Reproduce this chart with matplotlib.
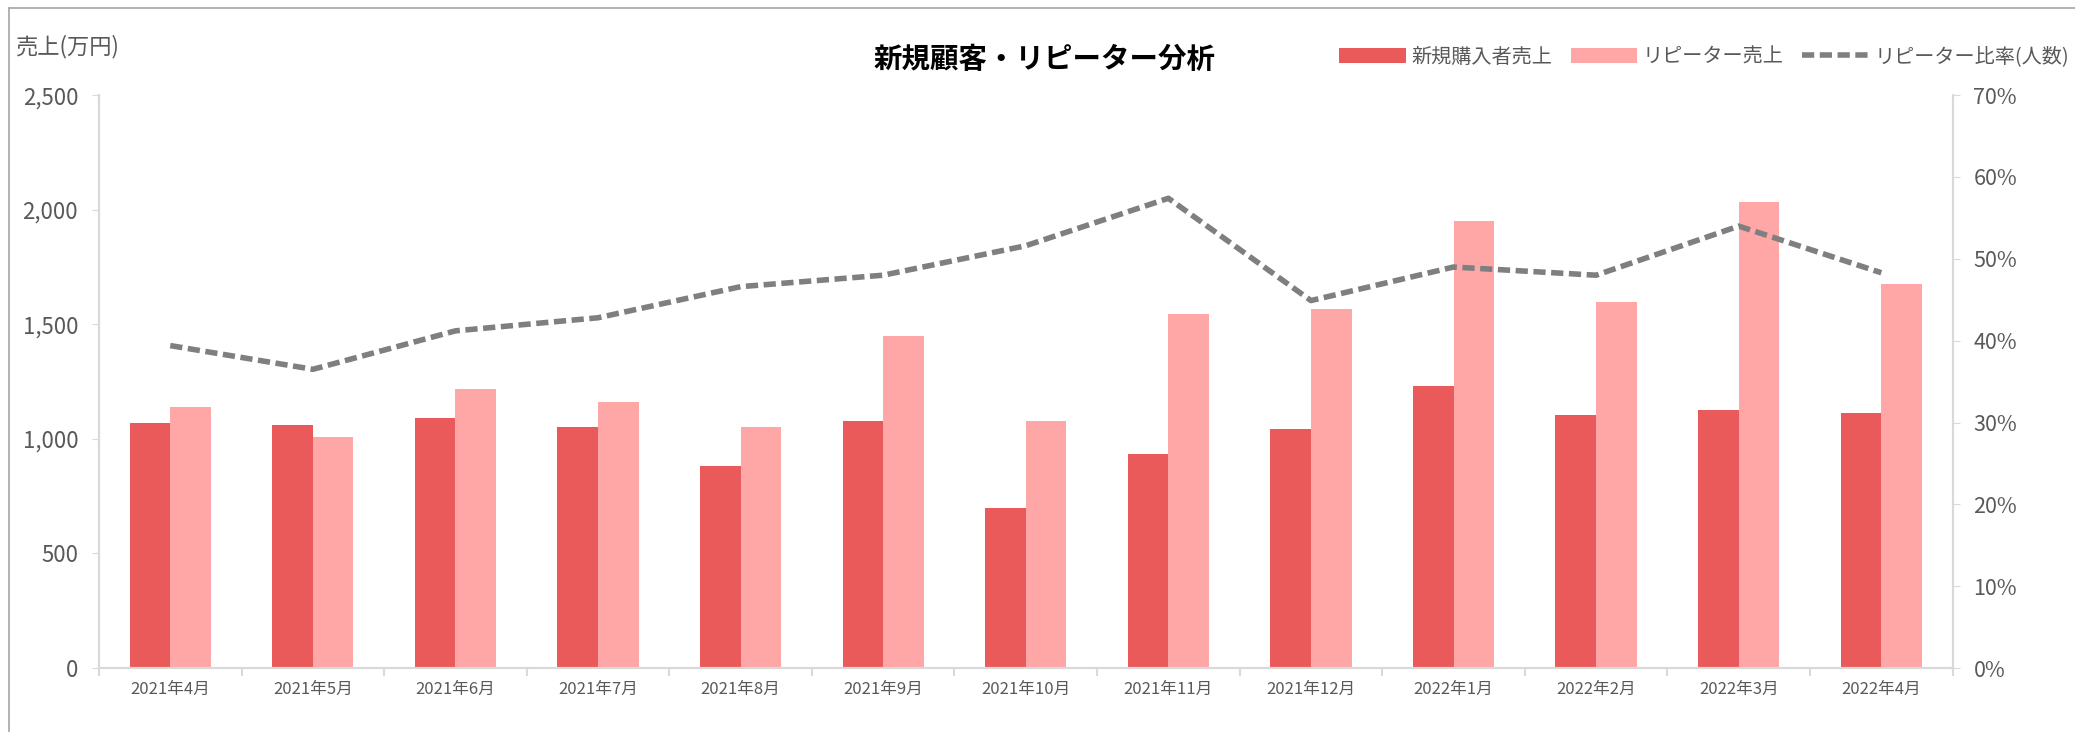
import numpy as np
import matplotlib
matplotlib.use("Agg")
import matplotlib.pyplot as plt
from matplotlib.lines import Line2D
from matplotlib.ticker import FuncFormatter, MultipleLocator

plt.rcParams['font.family'] = ['Noto Sans CJK JP', 'DejaVu Sans']

# data
months = ["2021年4月", "2021年5月", "2021年6月", "2021年7月", "2021年8月", "2021年9月",
          "2021年10月", "2021年11月", "2021年12月", "2022年1月", "2022年2月", "2022年3月",
          "2022年4月"]
new_sales = [1068, 1062, 1091, 1051, 883, 1080, 699, 935, 1045, 1230, 1103, 1126, 1114]
repeat_sales = [1137, 1010, 1218, 1161, 1051, 1449, 1080, 1547, 1565, 1952, 1599, 2032, 1674]
repeat_ratio = [39.4, 36.5, 41.2, 42.8, 46.6, 48.0, 51.6, 57.4, 44.9, 49.0, 48.0, 54.0, 48.3]

RED = "#EB5A5A"
PINK = "#FFA7A7"
GRAY_LINE = "#7F7F7F"
TEXT = "#595959"
AXIS = "#D9D9D9"

fig = plt.figure(figsize=(20.75, 7.32), dpi=100)
ax = fig.add_axes([0.0477, 0.0874, 0.8933, 0.7826])
ax2 = ax.twinx()

x = np.arange(len(months))
w = 0.285
b1 = ax.bar(x - w / 2, new_sales, w, color=RED, label="新規購入者売上", zorder=2)
b2 = ax.bar(x + w / 2, repeat_sales, w, color=PINK, label="リピーター売上", zorder=2)
ln, = ax2.plot(x, repeat_ratio, color=GRAY_LINE, lw=4, ls=(0, (2.2, 1.0)),
               label="リピーター比率(人数)", solid_capstyle="butt")

ax.set_xlim(-0.5, len(months) - 0.5)
ax.set_ylim(0, 2500)
ax2.set_ylim(0, 70)
ax.yaxis.set_major_locator(MultipleLocator(500))
ax2.yaxis.set_major_locator(MultipleLocator(10))
ax.yaxis.set_major_formatter(FuncFormatter(lambda v, p: f"{int(v):,}"))
ax2.yaxis.set_major_formatter(FuncFormatter(lambda v, p: f"{int(v)}%"))

ax.set_xticks(x)
ax.set_xticklabels(months, fontsize=12, color=TEXT)
ax.set_xticks(np.arange(len(months) + 1) - 0.5, minor=True)
ax.tick_params(axis="x", which="major", length=0, pad=9)
ax.tick_params(axis="x", which="minor", length=6, color=AXIS, width=1.5)
ax.tick_params(axis="y", labelsize=16, labelcolor=TEXT, length=5, color=AXIS, pad=10)
ax2.tick_params(axis="y", labelsize=15.5, labelcolor=TEXT, length=5, color=AXIS, pad=10)

for a in (ax, ax2):
    for s in a.spines.values():
        s.set_color(AXIS)
        s.set_linewidth(1.5)
    a.spines["top"].set_visible(False)

fig.text(0.0077, 0.937, "売上(万円)", fontsize=16, color=TEXT, va="center", ha="left")
fig.text(0.5036, 0.918, "新規顧客・リピーター分析", fontsize=20.5, fontweight="bold",
         color="black", ha="center", va="center")

leg = fig.legend(handles=[b1, b2, ln], loc="center right", bbox_to_anchor=(1.006, 0.922),
                 ncol=3, frameon=False, fontsize=14.5, handlelength=3.3, handleheight=0.75,
                 handletextpad=0.3, columnspacing=0.9, labelcolor=TEXT)

# chart border
fig.add_artist(Line2D([0.0043, 0.0043], [0, 0.989], transform=fig.transFigure,
                      color="#A6A6A6", lw=1.2))
fig.add_artist(Line2D([0.0043, 1.0], [0.989, 0.989], transform=fig.transFigure,
                      color="#A6A6A6", lw=1.2))

fig.savefig("out.png", dpi=100)
